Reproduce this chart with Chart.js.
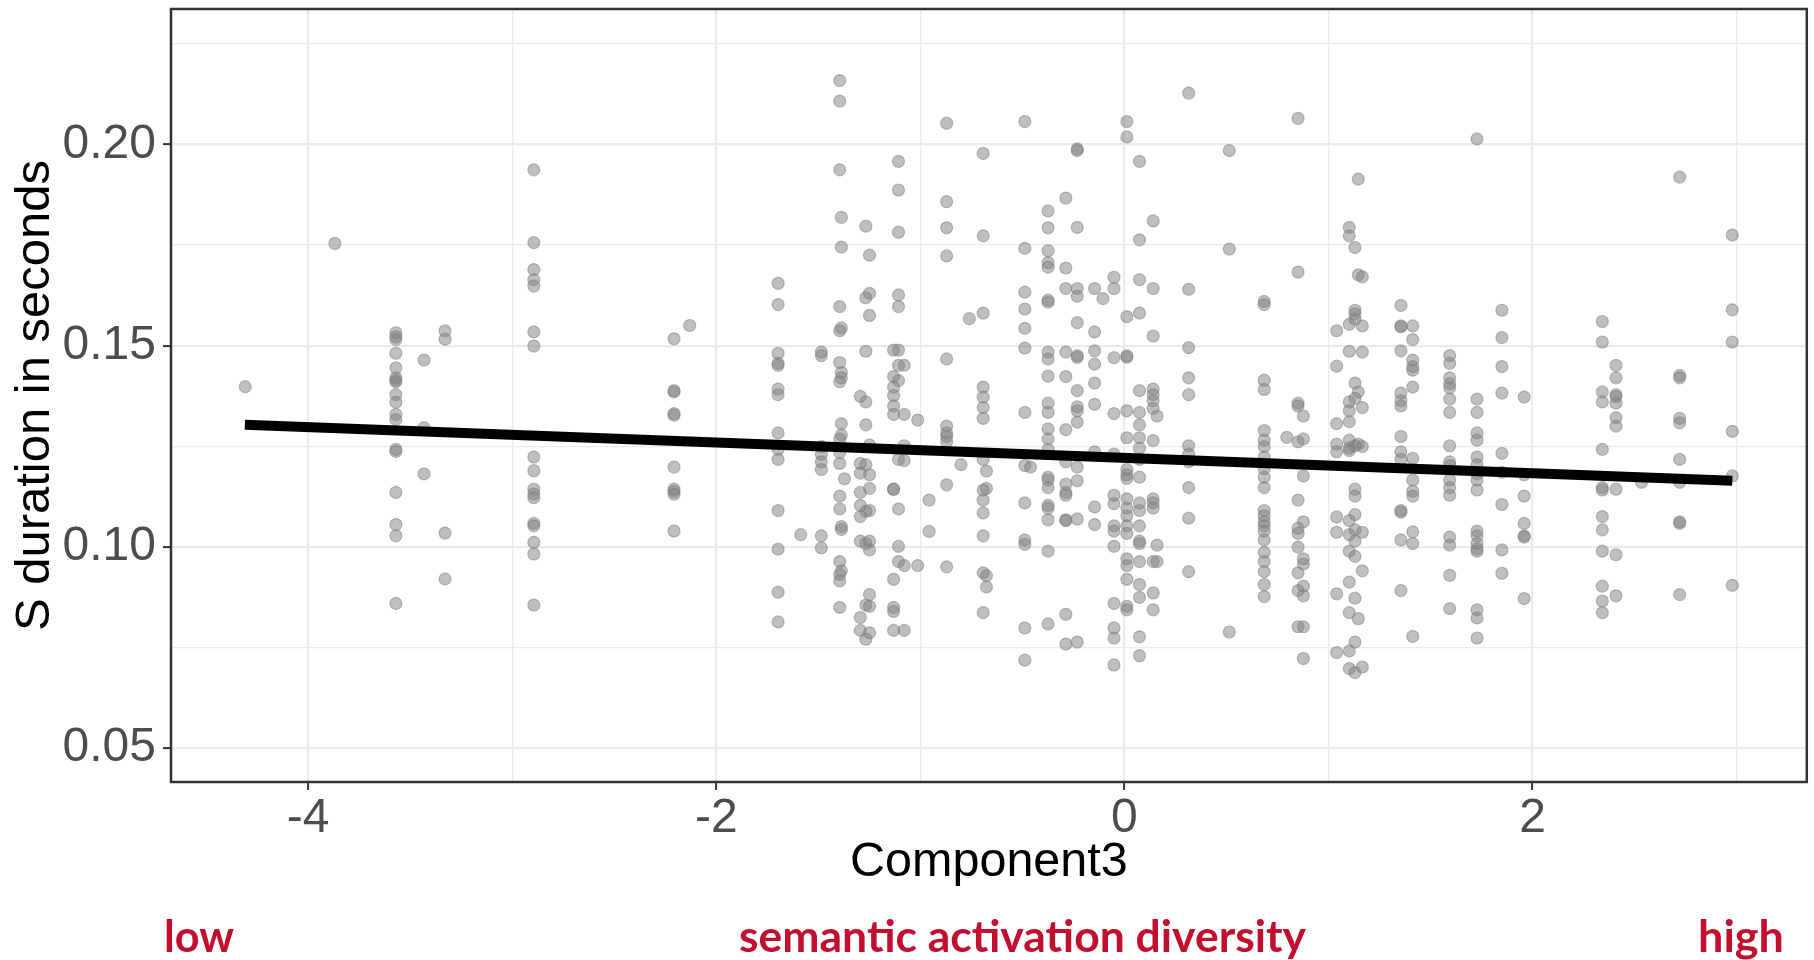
<!DOCTYPE html>
<html>
<head>
<meta charset="utf-8">
<script src="https://cdn.jsdelivr.net/npm/chart.js@4/dist/chart.umd.min.js"></script>
<style>
  html, body { margin: 0; padding: 0; background: #fff; }
  #wrap { position: relative; width: 1814px; height: 960px; }
</style>
</head>
<body>
<div id="wrap"><canvas id="scatterChart" width="1814" height="960"></canvas></div>
<script>
// x position (Component3) of each vertical column of points
const component3 = [
  -4.308, -3.869, -3.570, -3.432, -3.329, -2.894, -2.207, -2.130, -1.697, -1.586,
  -1.485, -1.395, -1.387, -1.372, -1.294, -1.267, -1.249, -1.131, -1.107, -1.079,
  -1.013, -0.957, -0.871, -0.801, -0.760, -0.692, -0.676, -0.488, -0.460, -0.374,
  -0.287, -0.231, -0.146, -0.105, -0.051, 0.012, 0.074, 0.141, 0.160, 0.315,
  0.514, 0.685, 0.796, 0.851, 0.877, 1.040, 1.102, 1.130, 1.146, 1.166,
  1.355, 1.413, 1.594, 1.728, 1.850, 1.959, 2.342, 2.409, 2.534, 2.721, 2.979
];

// S duration (seconds) for each column above
const sDuration = [
  [0.1398],
  [0.1754],
  [0.1532, 0.1522, 0.1515, 0.1481, 0.1445, 0.1420, 0.1414, 0.1410, 0.1378, 0.1359, 0.1329, 0.1316, 0.1242, 0.1237, 0.1135, 0.1055, 0.1027, 0.0859],
  [0.1464, 0.1296, 0.1181],
  [0.1537, 0.1516, 0.1034, 0.0920],
  [0.1937, 0.1756, 0.1689, 0.1664, 0.1648, 0.1534, 0.1499, 0.1223, 0.1189, 0.1143, 0.1131, 0.1122, 0.1058, 0.1052, 0.1011, 0.0982, 0.0855],
  [0.1517, 0.1388, 0.1385, 0.1331, 0.1327, 0.1198, 0.1143, 0.1137, 0.1131, 0.1039],
  [0.1550],
  [0.1655, 0.1602, 0.1481, 0.1456, 0.1451, 0.1392, 0.1378, 0.1283, 0.1242, 0.1217, 0.1090, 0.0994, 0.0887, 0.0813],
  [0.1030],
  [0.1484, 0.1475, 0.1249, 0.1230, 0.1211, 0.1192, 0.1027, 0.0997],
  [0.2159, 0.2108, 0.1937, 0.1597, 0.1537, 0.1458, 0.1410, 0.1268, 0.1234, 0.1207, 0.1126, 0.1094, 0.0963, 0.0931, 0.0915, 0.0849],
  [0.1819, 0.1745, 0.1544, 0.1433, 0.1420, 0.1306, 0.1278, 0.1050, 0.1043, 0.0940],
  [0.1169],
  [0.1374, 0.1207, 0.1183, 0.1135, 0.1103, 0.1075, 0.1014, 0.0824, 0.0792],
  [0.1797, 0.1619, 0.1486, 0.1360, 0.1303, 0.1204, 0.1088, 0.1008, 0.0855, 0.0770],
  [0.1725, 0.1630, 0.1575, 0.1253, 0.1179, 0.1145, 0.1090, 0.1014, 0.0992, 0.0881, 0.0852, 0.0786],
  [0.1489, 0.1423, 0.1397, 0.1376, 0.1350, 0.1329, 0.1143, 0.1143, 0.0919, 0.0849, 0.0839, 0.0792],
  [0.1958, 0.1887, 0.1782, 0.1626, 0.1597, 0.1489, 0.1451, 0.1413, 0.1217, 0.1094, 0.1001, 0.0963],
  [0.1451, 0.1329, 0.1251, 0.1214, 0.0953, 0.0792],
  [0.1315, 0.0953],
  [0.1116, 0.1038],
  [0.2053, 0.1858, 0.1793, 0.1723, 0.1467, 0.1300, 0.1283, 0.1274, 0.1261, 0.1154, 0.0950],
  [0.1204],
  [0.1567],
  [0.1978, 0.1773, 0.1581, 0.1397, 0.1372, 0.1346, 0.1319, 0.1217, 0.1141, 0.1116, 0.1084, 0.1027, 0.0935, 0.0836],
  [0.1188, 0.1145, 0.0928, 0.0900],
  [0.2057, 0.1742, 0.1633, 0.1591, 0.1543, 0.1494, 0.1334, 0.1202, 0.1109, 0.1017, 0.1006, 0.0798, 0.0718],
  [0.1198],
  [0.1835, 0.1793, 0.1736, 0.1706, 0.1695, 0.1613, 0.1608, 0.1484, 0.1467, 0.1424, 0.1357, 0.1334, 0.1293, 0.1268, 0.1242, 0.1173, 0.1166, 0.1147, 0.1103, 0.1096, 0.1067, 0.0989, 0.0808],
  [0.1867, 0.1693, 0.1642, 0.1484, 0.1423, 0.1291, 0.1211, 0.1156, 0.1135, 0.1128, 0.1067, 0.1065, 0.0832, 0.0758],
  [0.1989, 0.1985, 0.1794, 0.1642, 0.1623, 0.1557, 0.1475, 0.1471, 0.1388, 0.1348, 0.1338, 0.1310, 0.1198, 0.1164, 0.1069, 0.0763],
  [0.1642, 0.1534, 0.1487, 0.1454, 0.1407, 0.1354, 0.1236, 0.1099, 0.1055],
  [0.1617],
  [0.1670, 0.1642, 0.1470, 0.1331, 0.1230, 0.1128, 0.1107, 0.1052, 0.1039, 0.1001, 0.0859, 0.0798, 0.0773, 0.0706],
  [0.2057, 0.2019, 0.1572, 0.1475, 0.1471, 0.1338, 0.1271, 0.1192, 0.1179, 0.1170, 0.1119, 0.1096, 0.1077, 0.1052, 0.1033, 0.0970, 0.0953, 0.0919, 0.0852, 0.0843],
  [0.1958, 0.1763, 0.1664, 0.1581, 0.1388, 0.1334, 0.1303, 0.1271, 0.1245, 0.1217, 0.1173, 0.1109, 0.1090, 0.1052, 0.1014, 0.1008, 0.0963, 0.0906, 0.0874, 0.0776, 0.0729],
  [0.1810, 0.1642, 0.1524, 0.1392, 0.1378, 0.1363, 0.1344, 0.1264, 0.1119, 0.1109, 0.1096, 0.0963, 0.0885, 0.0843],
  [0.1325, 0.1004, 0.0963],
  [0.2128, 0.1640, 0.1495, 0.1420, 0.1378, 0.1251, 0.1230, 0.1211, 0.1147, 0.1071, 0.0938],
  [0.1985, 0.1740, 0.0788],
  [0.1610, 0.1602, 0.1414, 0.1391, 0.1289, 0.1265, 0.1249, 0.1223, 0.1194, 0.1173, 0.1147, 0.1090, 0.1077, 0.1062, 0.1052, 0.1039, 0.1017, 0.0986, 0.0963, 0.0938, 0.0906, 0.0876],
  [0.1272],
  [0.2065, 0.1683, 0.1357, 0.1350, 0.1261, 0.1116, 0.1046, 0.1033, 0.0999, 0.0935, 0.0891, 0.0801],
  [0.1325, 0.1268, 0.1176, 0.1062, 0.0970, 0.0957, 0.0902, 0.0878, 0.0801, 0.0722],
  [0.1537, 0.1449, 0.1306, 0.1255, 0.1236, 0.1074, 0.1036, 0.0883, 0.0737],
  [0.1794, 0.1773, 0.1553, 0.1486, 0.1360, 0.1338, 0.1311, 0.1265, 0.1245, 0.1239, 0.1065, 0.1030, 0.0989, 0.0912, 0.0836, 0.0741, 0.0697],
  [0.1744, 0.1588, 0.1579, 0.1566, 0.1407, 0.1369, 0.1251, 0.1143, 0.1126, 0.1080, 0.1042, 0.1014, 0.0976, 0.0872, 0.0763, 0.0687],
  [0.1914, 0.1676, 0.1385, 0.1255, 0.0821],
  [0.1671, 0.1549, 0.1484, 0.1346, 0.1249, 0.1036, 0.0940, 0.0701],
  [0.1600, 0.1549, 0.1547, 0.1487, 0.1382, 0.1363, 0.1350, 0.1274, 0.1236, 0.1217, 0.1090, 0.1086, 0.1017, 0.0891],
  [0.1549, 0.1515, 0.1464, 0.1448, 0.1439, 0.1397, 0.1220, 0.1166, 0.1138, 0.1126, 0.1037, 0.1008, 0.0777],
  [0.1475, 0.1456, 0.1420, 0.1405, 0.1395, 0.1367, 0.1334, 0.1251, 0.1211, 0.1202, 0.1166, 0.1147, 0.1128, 0.1024, 0.1004, 0.0929, 0.0846],
  [0.2014, 0.1367, 0.1334, 0.1283, 0.1265, 0.1223, 0.1204, 0.1181, 0.1166, 0.1141, 0.1039, 0.1027, 0.1008, 0.0995, 0.0989, 0.0843, 0.0823, 0.0773],
  [0.1588, 0.1520, 0.1448, 0.1382, 0.1232, 0.1185, 0.1105, 0.0992, 0.0934],
  [0.1372, 0.1179, 0.1126, 0.1058, 0.1027, 0.1024, 0.0871],
  [0.1560, 0.1509, 0.1385, 0.1360, 0.1242, 0.1147, 0.1141, 0.1075, 0.1042, 0.0989, 0.0902, 0.0865, 0.0836],
  [0.1451, 0.1420, 0.1378, 0.1373, 0.1357, 0.1321, 0.1300, 0.1143, 0.0980, 0.0878],
  [0.1160],
  [0.1919, 0.1426, 0.1420, 0.1319, 0.1308, 0.1217, 0.1160, 0.1062, 0.1058, 0.0881],
  [0.1775, 0.1589, 0.1509, 0.1287, 0.1176, 0.0904]
];

// linear fit, drawn between its two ends
const fitX = [-4.31, 2.979];
const fitY = [0.1303, 0.1164];

const xTicks = [-4, -2, 0, 2];
const xTickLabels = ["-4", "-2", "0", "2"];
const xMinorTicks = [-3, -1, 1, 3];
const yTicks = [0.05, 0.1, 0.15, 0.2];
const yTickLabels = ["0.05", "0.10", "0.15", "0.20"];
const yMinorTicks = [0.075, 0.125, 0.175, 0.225];

const xTitle = "Component3";
const yTitle = "S duration in seconds";
const footLabels = ["low", "semantic activation diversity", "high"];

const points = [];
component3.forEach((x, i) => {
  sDuration[i].forEach((y) => points.push({ x: x, y: y }));
});
const fitLine = fitX.map((x, i) => ({ x: x, y: fitY[i] }));

const AXIS_FONT = "'Liberation Sans', Arial, sans-serif";
const near = (list, v) => list.findIndex((t) => Math.abs(t - v) < 1e-6);

function setTicks(major, minor) {
  return (scale) => {
    scale.ticks = major
      .concat(minor)
      .sort((a, b) => a - b)
      .map((v) => ({ value: v }));
  };
}

function gridFor(major) {
  return {
    color: "#ebebeb",
    lineWidth: (ctx) => (near(major, ctx.tick.value) >= 0 ? 2.2 : 1.3),
    tickColor: (ctx) => (near(major, ctx.tick.value) >= 0 ? "#333333" : "rgba(0,0,0,0)"),
    tickLength: 8,
    tickWidth: 2,
  };
}

// full panel border like theme_bw
const panelBorder = {
  id: "panelBorder",
  afterDatasetsDraw(chart) {
    const { ctx, chartArea: a } = chart;
    ctx.save();
    ctx.strokeStyle = "#333333";
    ctx.lineWidth = 2.5;
    ctx.strokeRect(a.left, a.top, a.right - a.left, a.bottom - a.top);
    ctx.restore();
  },
};

// red annotation under the x axis
const footText = {
  id: "footText",
  afterDraw(chart) {
    const { ctx } = chart;
    const spans = [
      [164, 234],
      [739, 1306],
      [1698, 1784],
    ];
    ctx.save();
    ctx.fillStyle = "#c20e2f";
    ctx.font = "700 43px Lato, 'Open Sans', sans-serif";
    ctx.textBaseline = "alphabetic";
    ctx.textAlign = "left";
    footLabels.forEach((txt, i) => {
      const [x0, x1] = spans[i];
      const w = ctx.measureText(txt).width;
      ctx.save();
      ctx.translate(x0, 952);
      ctx.scale((x1 - x0) / w, 1);
      ctx.fillText(txt, 0, 0);
      ctx.restore();
    });
    ctx.restore();
  },
};

const ctx = document.getElementById("scatterChart").getContext("2d");
new Chart(ctx, {
  type: "scatter",
  data: {
    datasets: [
      {
        type: "line",
        data: fitLine,
        borderColor: "#000000",
        borderWidth: 10,
        borderCapStyle: "butt",
        pointRadius: 0,
        fill: false,
        order: 0,
      },
      {
        data: points,
        backgroundColor: "rgba(127, 127, 127, 0.5)",
        borderColor: "rgba(127, 127, 127, 0.5)",
        borderWidth: 1.2,
        pointRadius: 6,
        order: 1,
      },
    ],
  },
  options: {
    responsive: false,
    animation: false,
    layout: {
      padding: { top: 9, right: 3, bottom: 0, left: 0 },
    },
    plugins: {
      legend: { display: false },
      tooltip: { enabled: false },
    },
    scales: {
      x: {
        type: "linear",
        min: -4.672,
        max: 3.344,
        afterBuildTicks: setTicks(xTicks, xMinorTicks),
        afterFit: (scale) => {
          scale.height = 178;
          scale.paddingLeft = 0;
          scale.paddingRight = 0;
        },
        grid: gridFor(xTicks),
        border: { display: false },
        ticks: {
          autoSkip: false,
          maxRotation: 0,
          padding: 5,
          color: "#4d4d4d",
          font: { family: AXIS_FONT, size: 48, lineHeight: 1 },
          callback: (v) => {
            const i = near(xTicks, v);
            return i >= 0 ? xTickLabels[i] : "";
          },
        },
        title: {
          display: true,
          text: xTitle,
          color: "#000000",
          font: { family: AXIS_FONT, size: 48.5 },
          padding: { top: 0, bottom: 68 },
        },
      },
      y: {
        type: "linear",
        min: 0.0415,
        max: 0.2337,
        afterBuildTicks: setTicks(yTicks, yMinorTicks),
        afterFit: (scale) => {
          scale.width = 171;
          scale.paddingTop = 0;
          scale.paddingBottom = 0;
        },
        grid: gridFor(yTicks),
        border: { display: false },
        ticks: {
          autoSkip: false,
          padding: 7,
          color: "#4d4d4d",
          font: { family: AXIS_FONT, size: 48 },
          callback: (v) => {
            const i = near(yTicks, v);
            return i >= 0 ? yTickLabels[i] : "";
          },
        },
        title: {
          display: true,
          text: yTitle,
          color: "#000000",
          font: { family: AXIS_FONT, size: 49 },
          padding: { top: 6, bottom: 0 },
        },
      },
    },
  },
  plugins: [panelBorder, footText],
});
</script>
</body>
</html>
